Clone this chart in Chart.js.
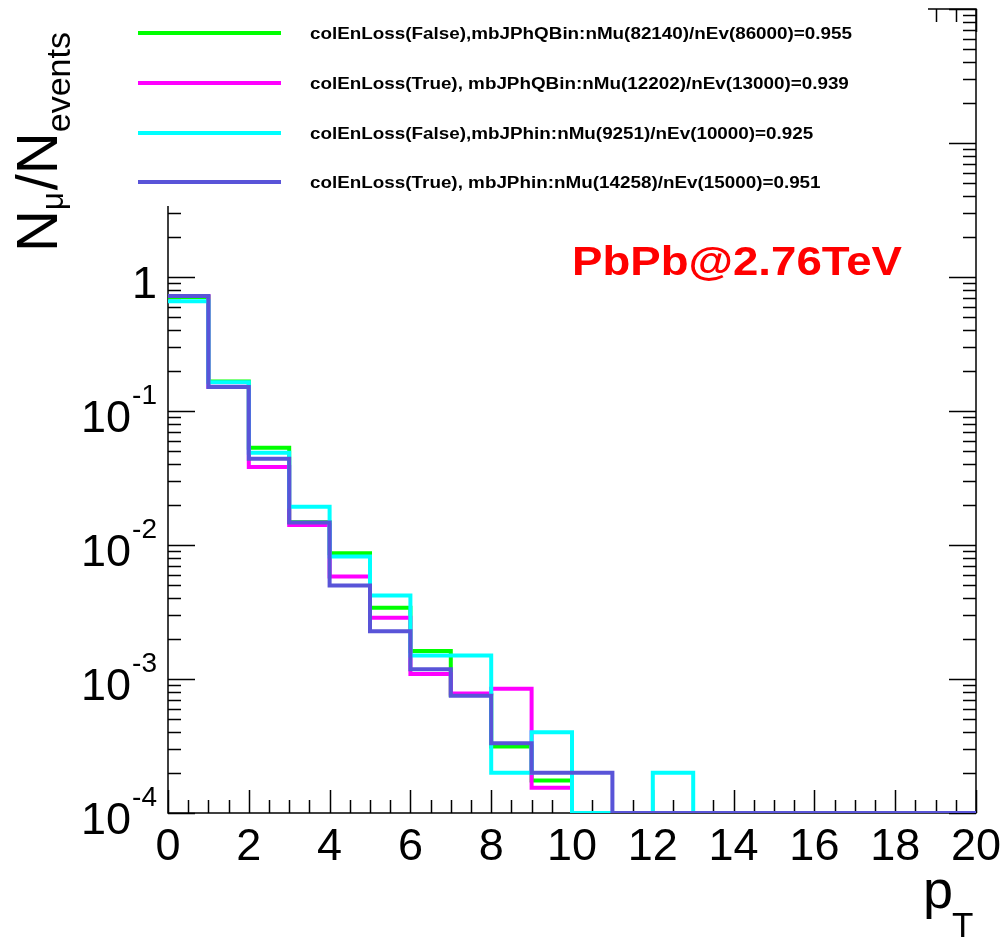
<!DOCTYPE html>
<html>
<head>
<meta charset="utf-8">
<script src="https://cdn.jsdelivr.net/npm/chart.js@4.4.1/dist/chart.umd.min.js"></script>
<style>
  html, body { margin: 0; padding: 0; background: #fff; }
  #wrap { width: 1004px; height: 939px; }
</style>
</head>
<body>
<div id="wrap"><canvas id="ptChart" width="1004" height="939"></canvas></div>
<script>
// ===== DATA =====
const binEdges = [0,1,2,3,4,5,6,7,8,9,10,11,12,13,14,15,16,17,18,19,20];

const seriesLabels = [
  'colEnLoss(False),mbJPhQBin:nMu(82140)/nEv(86000)=0.955',
  'colEnLoss(True), mbJPhQBin:nMu(12202)/nEv(13000)=0.939',
  'colEnLoss(False),mbJPhin:nMu(9251)/nEv(10000)=0.925',
  'colEnLoss(True), mbJPhin:nMu(14258)/nEv(15000)=0.951'
];
const seriesColors = ['#00ff00', '#ff00ff', '#00ffff', '#5954d8'];

// N_mu / N_events per pT bin (0 = empty bin)
const falseQBin = [0.71, 0.166, 0.0532, 0.0148, 0.00867, 0.0034, 0.00162, 0.00076, 0.000313, 0.000175, 0, 0, 0, 0, 0, 0, 0, 0, 0, 0];
const trueQBin  = [0.72, 0.152, 0.0382, 0.0141, 0.00581, 0.00287, 0.00109, 0.00078, 0.000846, 0.000154, 0, 0, 0, 0, 0, 0, 0, 0, 0, 0];
const falseMin  = [0.66, 0.164, 0.0489, 0.0193, 0.00819, 0.0042, 0.0015, 0.0015, 0.0002, 0.0004, 0, 0, 0.0002, 0, 0, 0, 0, 0, 0, 0];
const trueMin   = [0.72, 0.151, 0.0441, 0.0147, 0.00498, 0.00227, 0.00118, 0.00075, 0.000331, 0.0002, 0.0002, 0, 0, 0, 0, 0, 0, 0, 0, 0];
const seriesValues = [falseQBin, trueQBin, falseMin, trueMin];

const xTickValues = [0, 2, 4, 6, 8, 10, 12, 14, 16, 18, 20];
const xTickLabels = ['0', '2', '4', '6', '8', '10', '12', '14', '16', '18', '20'];
const yTickValues = [1e-4, 1e-3, 1e-2, 1e-1, 1];
const yTickBases  = ['10', '10', '10', '10', '1'];
const yTickExps   = ['-4', '-3', '-2', '-1', ''];

const Y_MIN = 1e-4;
const Y_MAX = 100;
const FONT = '"Liberation Sans", Arial, Helvetica, sans-serif';

// ===== HELPERS =====
function toSteps(values) {
  const pts = values.map((v, i) => ({ x: binEdges[i], y: v > 0 ? v : Y_MIN }));
  pts.push({ x: binEdges[values.length], y: pts[pts.length - 1].y });
  return pts;
}

function stretchText(ctx, text, x, y, sx) {
  ctx.save();
  ctx.translate(x, y);
  ctx.scale(sx, 1);
  ctx.fillText(text, 0, 0);
  ctx.restore();
}

// ===== FRAME / TICKS / TEXT PLUGIN =====
const rootFrame = {
  id: 'rootFrame',
  beforeDatasetsDraw(chart) {
    const { ctx, chartArea: a, scales: { x, y } } = chart;
    ctx.save();
    ctx.strokeStyle = '#000';
    ctx.lineWidth = 1.5;
    ctx.strokeRect(a.left, a.top, a.right - a.left, a.bottom - a.top);
    ctx.beginPath();
    // x ticks, minor every 0.5
    for (let v = x.min; v <= x.max + 1e-9; v += 0.5) {
      const px = Math.round(x.getPixelForValue(v)) + 0.5;
      const len = xTickValues.includes(v) ? 23 : 13;
      ctx.moveTo(px, a.bottom); ctx.lineTo(px, a.bottom - len);
      ctx.moveTo(px, a.top); ctx.lineTo(px, a.top + len);
    }
    // y ticks, log decades
    for (let e = -4; e <= 2; e++) {
      for (let m = 1; m <= 9; m++) {
        const v = m * Math.pow(10, e);
        if (v > y.max * 1.0001) break;
        const py = Math.round(y.getPixelForValue(v)) + 0.5;
        const len = m === 1 ? 27 : 13;
        ctx.moveTo(a.left, py); ctx.lineTo(a.left + len, py);
        ctx.moveTo(a.right, py); ctx.lineTo(a.right - len, py);
      }
    }
    ctx.stroke();
    ctx.restore();
  },
  afterDatasetsDraw(chart) {
    const { ctx, chartArea: a, scales: { x, y } } = chart;
    ctx.save();

    // legend box (white, covers top of frame)
    ctx.fillStyle = '#fff';
    ctx.fillRect(95, 0, 833, 206);

    const legendY = [33, 83, 133, 182];
    ctx.font = 'bold 16px ' + FONT;
    ctx.textBaseline = 'alphabetic';
    ctx.textAlign = 'left';
    const sx = 542 / ctx.measureText(seriesLabels[0]).width;
    seriesLabels.forEach((lab, i) => {
      ctx.strokeStyle = seriesColors[i];
      ctx.lineWidth = 4;
      ctx.beginPath();
      ctx.moveTo(138, legendY[i]);
      ctx.lineTo(281, legendY[i]);
      ctx.stroke();
      ctx.fillStyle = '#000';
      stretchText(ctx, lab, 310, legendY[i] + 6, sx);
    });

    // x tick labels
    ctx.fillStyle = '#000';
    ctx.font = '45px ' + FONT;
    ctx.textAlign = 'center';
    xTickValues.forEach((v, i) => {
      ctx.fillText(xTickLabels[i], x.getPixelForValue(v), 860);
    });

    // y tick labels
    ctx.textAlign = 'right';
    yTickValues.forEach((v, i) => {
      const py = y.getPixelForValue(v);
      let right = 157;
      if (yTickExps[i]) {
        ctx.font = '28px ' + FONT;
        ctx.fillText(yTickExps[i], right, py - 7);
        right -= ctx.measureText(yTickExps[i]).width + 1;
      }
      ctx.font = '45px ' + FONT;
      ctx.fillText(yTickBases[i], right, py + 21);
    });

    // y title N_mu / N_events
    ctx.save();
    ctx.translate(57, 252);
    ctx.rotate(-Math.PI / 2);
    ctx.textAlign = 'left';
    let tx = 0;
    ctx.font = '58px ' + FONT;
    ctx.fillText('N', tx, 0); tx += ctx.measureText('N').width;
    ctx.font = '31px ' + FONT;
    ctx.fillText('\u03bc', tx, 6); tx += ctx.measureText('\u03bc').width + 2;
    ctx.font = '58px ' + FONT;
    ctx.fillText('/', tx, 0); tx += ctx.measureText('/').width;
    ctx.fillText('N', tx, 0); tx += ctx.measureText('N').width;
    ctx.font = '34px ' + FONT;
    ctx.fillText('events', tx, 13);
    ctx.restore();

    // x title p_T
    ctx.textAlign = 'left';
    ctx.font = '54px ' + FONT;
    ctx.fillText('p', 923, 908);
    ctx.font = '35px ' + FONT;
    ctx.fillText('T', 952, 937);

    // collision label
    ctx.fillStyle = '#ff0000';
    ctx.font = 'bold 40px ' + FONT;
    const psx = 330 / ctx.measureText('PbPb@2.76TeV').width;
    stretchText(ctx, 'PbPb@2.76TeV', 572, 275, psx);

    ctx.restore();
  }
};

// ===== CHART =====
const ctx = document.getElementById('ptChart').getContext('2d');
new Chart(ctx, {
  type: 'line',
  data: {
    datasets: seriesValues.map((vals, i) => ({
      label: seriesLabels[i],
      data: toSteps(vals),
      borderColor: seriesColors[i],
      backgroundColor: seriesColors[i],
      borderWidth: 4,
      stepped: true,
      pointRadius: 0,
      fill: false,
      borderJoinStyle: 'miter',
      borderCapStyle: 'butt',
      order: seriesValues.length - i
    }))
  },
  plugins: [rootFrame],
  options: {
    responsive: false,
    animation: false,
    devicePixelRatio: 1,
    events: [],
    layout: { padding: { left: 168, right: 28, top: 9, bottom: 126 } },
    plugins: {
      legend: { display: false },
      tooltip: { enabled: false }
    },
    scales: {
      x: { type: 'linear', min: 0, max: 20, display: false },
      y: { type: 'logarithmic', min: Y_MIN, max: Y_MAX, display: false }
    }
  }
});
</script>
</body>
</html>
